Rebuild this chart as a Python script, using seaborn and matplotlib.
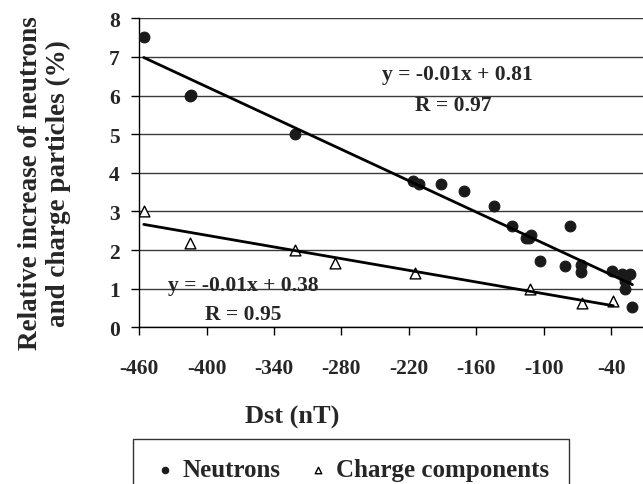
import pandas as pd
import matplotlib.pyplot as plt
import seaborn as sns

# Neutron monitor points (Dst in nT, relative increase in %)
neutron_dst = [-456, -415, -414, -321, -216, -211, -191, -171, -144, -128,
               -116, -113, -111, -103, -81, -77, -67, -67, -39, -30,
               -23, -28, -28, -21]
neutron_inc = [7.51, 6.0, 6.01, 5.01, 3.80, 3.72, 3.72, 3.54, 3.13, 2.62,
               2.30, 2.30, 2.39, 1.71, 1.58, 2.62, 1.61, 1.44, 1.45, 1.39,
               1.39, 0.99, 1.20, 0.53]

# Charged component points
charge_dst = [-456, -415, -321, -286, -215, -112, -66, -38]
charge_inc = [3.0, 2.18, 2.0, 1.67, 1.40, 0.99, 0.63, 0.68]

x_ticks = [-460, -400, -340, -280, -220, -160, -100, -40]
y_ticks = [0, 1, 2, 3, 4, 5, 6, 7, 8]

neutrons = pd.DataFrame({'Dst': neutron_dst, 'inc': neutron_inc})
charge = pd.DataFrame({'Dst': charge_dst, 'inc': charge_inc})

sns.set_theme(style='white')
plt.rcParams['font.family'] = ['Liberation Serif', 'DejaVu Serif']
plt.rcParams['font.weight'] = 'bold'
plt.rcParams['axes.labelweight'] = 'bold'
plt.rcParams['axes.unicode_minus'] = False

fig = plt.figure(figsize=(6.43, 4.85), dpi=100)
ax = fig.add_axes([0.2166, 0.3231, 0.7834, 0.6371])

# Scatter points
sns.scatterplot(data=neutrons, x='Dst', y='inc', ax=ax, color='#1a1a1a',
                marker='o', s=60, edgecolor='#1a1a1a', linewidth=0.8,
                label='Neutrons', zorder=3)
sns.scatterplot(data=charge, x='Dst', y='inc', ax=ax, color='white',
                marker='^', s=60, edgecolor='black', linewidth=1.0,
                label='Charge components', zorder=3)

# Linear trend lines
sns.regplot(data=neutrons, x='Dst', y='inc', ax=ax, ci=None, scatter=False,
            truncate=True, line_kws={'color': 'black', 'lw': 2.0, 'zorder': 4})
sns.regplot(data=charge, x='Dst', y='inc', ax=ax, ci=None, scatter=False,
            truncate=True, line_kws={'color': 'black', 'lw': 2.0, 'zorder': 4})

ax.set_xlim(-460, -11.6)
ax.set_ylim(0, 8)
ax.set_xticks(x_ticks)
ax.set_yticks(y_ticks)
ax.yaxis.grid(True, color='#3a3a3a', lw=1.0)
ax.xaxis.grid(False)
for side in ['top', 'right']:
    ax.spines[side].set_visible(False)
for side in ['left', 'bottom']:
    ax.spines[side].set_color('black')
    ax.spines[side].set_linewidth(1.0)

ax.tick_params(axis='x', direction='out', length=6, width=1, color='black',
               labelsize=15.5, pad=16, bottom=True)
ax.tick_params(axis='y', direction='out', length=6, width=1, color='black',
               labelsize=15.5, pad=8, left=True)

ax.set_xlabel('Dst (nT)', fontsize=19)
ax.xaxis.set_label_coords(0.303, -0.29)
ax.xaxis.label.set_va('center')
ax.set_ylabel('Relative increase of neutrons\nand charge particles (%)',
              fontsize=19.5, linespacing=1.15)
ax.yaxis.set_label_coords(-0.189, 0.47)
ax.yaxis.label.set_va('center')

# Trend line equations
ax.text(0.631, 0.82, 'y = -0.01x + 0.81', transform=ax.transAxes,
        ha='center', va='center', fontsize=15.5)
ax.text(0.623, 0.718, 'R = 0.97', transform=ax.transAxes,
        ha='center', va='center', fontsize=15.5)
ax.text(0.206, 0.138, 'y = -0.01x + 0.38', transform=ax.transAxes,
        ha='center', va='center', fontsize=15.5)
ax.text(0.206, 0.044, 'R = 0.95', transform=ax.transAxes,
        ha='center', va='center', fontsize=15.5)

handles, labels = ax.get_legend_handles_labels()
ax.get_legend().remove()
leg = fig.legend(handles, labels, loc='upper center',
                 bbox_to_anchor=(351 / 643, 58 / 485), ncol=2,
                 fontsize=18, frameon=True, fancybox=False, markerscale=0.6,
                 handletextpad=0.2, columnspacing=1.0, borderpad=0.8,
                 handlelength=1.0)
leg.get_frame().set_edgecolor('black')
leg.get_frame().set_linewidth(1.0)

plt.savefig('out.png', dpi=100)
